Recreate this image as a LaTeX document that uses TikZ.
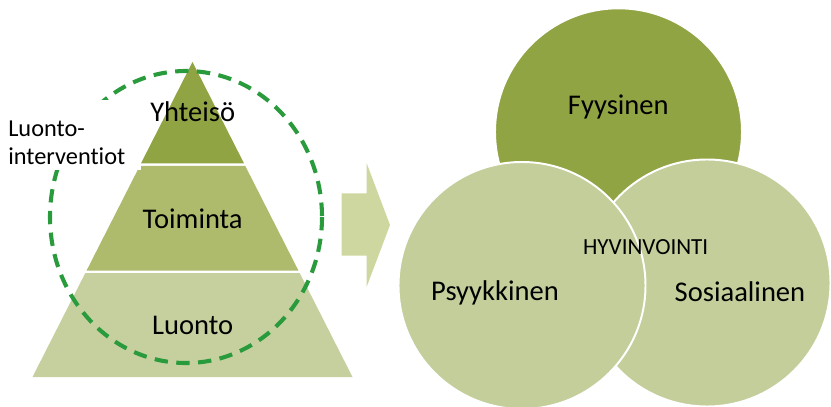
\documentclass[tikz,border=0pt]{standalone}
\usepackage{fontspec}
\setmainfont{Carlito}[Ligatures={NoCommon,NoRare,NoContextual}]
\usepackage{xcolor}

\definecolor{oliveDark}{HTML}{91A444}
\definecolor{oliveMid}{HTML}{AEBB6D}
\definecolor{oliveLight}{HTML}{C6D09E}
\definecolor{circLight}{HTML}{C3CE9B}
\definecolor{arrowFill}{HTML}{CDD79F}
\definecolor{dashGreen}{HTML}{2A9B3C}

\begin{document}
\begin{tikzpicture}[x=0.025cm, y=-0.025cm,
    big/.style={font=\fontsize{20.3}{24}\selectfont},
    small/.style={font=\fontsize{16.4}{20}\selectfont},
    side/.style={font=\fontsize{17.3}{20.2}\selectfont, align=left, anchor=west, inner sep=0pt},
    disc/.style={draw=white, line width=1.4pt}]
  \useasboundingbox (0,0) rectangle (831,407);

  % Pyramid (top to bottom)
  \fill[oliveDark] (192.5,62) -- (244.1,163.5) -- (140.9,163.5) -- cycle;
  \fill[oliveMid]
     (139.7,166) -- (245.3,166) -- (298.4,270.5) -- (86.6,270.5) -- cycle;
  \fill[oliveLight]
     (85.3,273) -- (299.7,273) -- (352.5,377) -- (32.5,377) -- cycle;

  % Dashed ring
  \draw[dashGreen, line width=2.9pt, dash pattern=on 9.5pt off 6pt]
     (186,217) circle [x radius=136, y radius=146];

  % Side label
  \fill[white] (0,100) rectangle (141,170);
  \node[side] (interv) at (8,142.5) {Luonto-\\interventiot};

  % Pyramid labels
  \node[big] (yhteiso) at (192.7,111.7) {Yhteisö};
  \node[big] (toiminta) at (192.7,218.3) {Toiminta};
  \node[big] (luonto) at (192.7,325) {Luonto};

  % Arrow
  \fill[arrowFill] (341.7,193.3) -- (366.7,193.3) -- (366.7,163.3) -- (390,225)
     -- (366.7,286.7) -- (366.7,255.7) -- (341.7,255.7) -- cycle;

  % Circles
  \draw[disc, fill=oliveDark] (618.5,131.8) circle [radius=123.5];
  \draw[disc, fill=circLight] (707,283) circle [radius=123.5];
  \draw[disc, fill=circLight] (522,285.5) circle [radius=123.5];

  % Circle labels
  \node[big] (fyys) at (618.3,107.3) {Fyysinen};
  \node[big] (psyyk) at (495,293.3) {Psyykkinen};
  \node[big] (sosi) at (740,291.7) {Sosiaalinen};
  \node[small] (hyvin) at (645.7,246.7) {HYVINVOINTI};
\end{tikzpicture}
\end{document}
